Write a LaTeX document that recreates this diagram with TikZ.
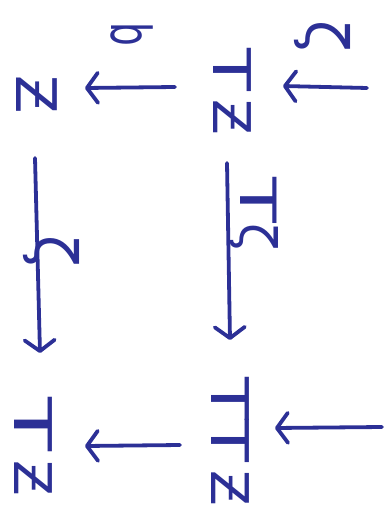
\documentclass[tikz,border=0pt]{standalone}
\usepackage{fontspec}
\setmainfont{DejaVu Sans}
\usetikzlibrary{arrows.meta,calc}
\definecolor{ink}{RGB}{44,48,150}
% a wide, handwritten-looking T
\newcommand\wideT[1][1.35]{\scalebox{#1}[1]{T}}
\begin{document}
\begin{tikzpicture}[x=1pt,y=-1pt,
  every node/.style={text=ink, rotate=-90, inner sep=0pt},
  obj/.style={font=\fontsize{52}{52}\selectfont},
  lbl/.style={font=\fontsize{50}{50}\selectfont},
  arr/.style={draw=ink, line width=3.8pt, line cap=round, line join=round,
    -{Straight Barb[length=11pt,width=30pt,round]}},
]
\useasboundingbox (0,0) rectangle (390,529);

% objects
\node[obj, font=\fontsize{56}{56}\selectfont] (zz) at (37,95) {Ƶ};
\node[obj] (tz) at (232,92) {\wideT\,Ƶ};
\node[obj] (tzb) at (33,447) {\wideT[1.7]\,Ƶ};
\node[obj] (ttz) at (230,442) {\wideT\kern-1pt\wideT\,Ƶ};

% free ends of the incoming arrows
\coordinate (in1) at (367,88);
\coordinate (in2) at (382,427);

% arrows
\draw[arr] ($(tz)+(-57,-5)$) -- ($(zz)+(48,-7)$);
\draw[arr] (in1) -- ($(tz)+(51,-6)$);
\draw[arr] ($(zz)+(-2,63)$) -- ($(tzb)+(7,-94)$);
\draw[arr] ($(tz)+(-5,71)$) -- ($(ttz)+(0,-102)$);
\draw[arr] ($(ttz)+(-50,3)$) -- ($(tzb)+(52,-1)$);
\draw[arr] (in2) -- ($(ttz)+(45,-14)$);

% labels
\node[lbl] (lb) at (132,34) {\scalebox{0.75}[1.1]{b}};
\node[lbl, font=\fontsize{58}{58}\selectfont] (lz1) at (322,36) {ζ};
\node[lbl, font=\fontsize{58}{58}\selectfont] (lz2) at (51,251) {ζ};
\node[lbl] (ltz) at (254,214) {\wideT[1.5]ζ};
\end{tikzpicture}
\end{document}
